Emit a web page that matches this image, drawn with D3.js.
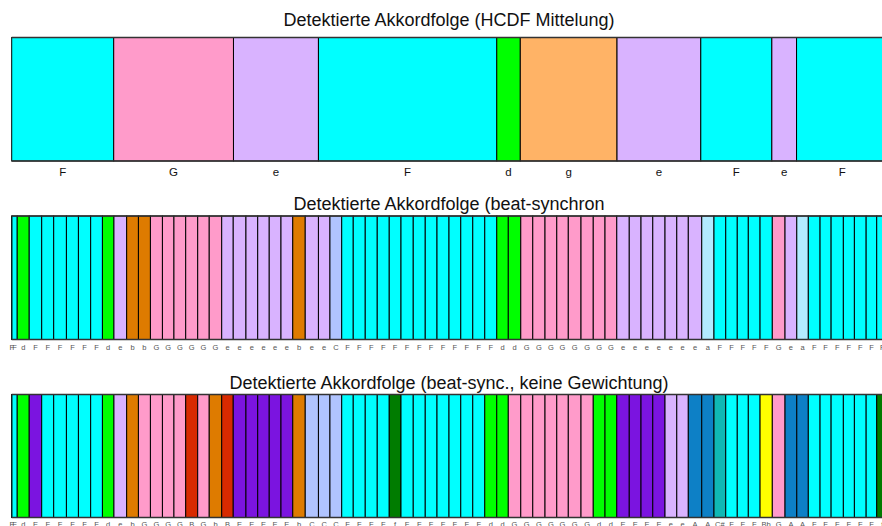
<!DOCTYPE html>
<html>
<head>
<meta charset="utf-8">
<script src="https://cdn.jsdelivr.net/npm/d3@7"></script>
<style>
  body { margin: 0; background: #fff; overflow: hidden; }
  text { font-family: 'Liberation Sans', Arial, sans-serif; }
</style>
</head>
<body>
<svg></svg>
<script>
const [svgWidth, svgHeight] = [882, 526];

// HCDF segments (seconds)
const hcdfBounds = [0, 4.25, 9.24, 12.78, 20.21, 21.19, 25.22, 28.71, 31.67, 32.70, 36.51];
const hcdfChords = ['F', 'G', 'e', 'F', 'd', 'g', 'e', 'F', 'e', 'F'];

// beat grid (seconds), first two entries are the part before the first beat
const beatTimes = [0, 0.01, 0.23, 0.73, 1.25, 1.75, 2.28, 2.78, 3.29, 3.78, 4.26, 4.79,
  5.28, 5.78, 6.28, 6.76, 7.25, 7.75, 8.23, 8.75, 9.23, 9.76, 10.25, 10.73, 11.22,
  11.71, 12.23, 12.78, 13.26, 13.75, 14.23, 14.73, 15.23, 15.73, 16.22, 16.73, 17.23,
  17.72, 18.22, 18.71, 19.21, 19.71, 20.21, 20.69, 21.21, 21.71, 22.22, 22.71, 23.19,
  23.72, 24.23, 24.72, 25.21, 25.73, 26.22, 26.71, 27.22, 27.71, 28.19, 28.75, 29.26,
  29.75, 30.23, 30.69, 31.18, 31.69, 32.22, 32.71, 33.19, 33.68, 34.14, 34.65, 35.11,
  35.60, 36.04, 36.51];

const beatChords = ('F F d F F F F F F d e b b G G G G G G e e e e e e b e e C ' +
  'F F F F F F F F F F F F F d d G G G G G G G G e e e e e e e a F F F F F G e a ' +
  'F F F F F F F').split(' ');

const beatChordsRaw = ('F F d E F F F F F d e b G G G G B G b B E E E E E b C C C ' +
  'F F F F f F F F F F F F d d G G G G G G G d d E E E E e e A A C# F F F Bb G A A ' +
  'F F F F F F f').split(' ');

const titles = [
  'Detektierte Akkordfolge (HCDF Mittelung)',
  'Detektierte Akkordfolge (beat-synchron',
  'Detektierte Akkordfolge (beat-sync., keine Gewichtung)'
];

const chordColor = {
  'F': '#00ffff', 'G': '#ff9bca', 'e': '#d9b3ff', 'd': '#00ff00', 'g': '#ffb366',
  'b': '#de7b00', 'C': '#b0c4ff', 'a': '#b2ebff', 'B': '#d82a00', 'E': '#7b14e0',
  'A': '#0d80c6', 'C#': '#10b8b4', 'Bb': '#ffff00', 'f': '#007c00'
};

const svg = d3.select('svg')
  .attr('width', svgWidth)
  .attr('height', svgHeight);

const x = d3.scaleLinear()
  .domain([0, 36.51])
  .range([11.7, 888]);

const toSegments = (bounds, chords) => chords.map((c, i) =>
  Object({ chord: c, t0: bounds[i], t1: bounds[i + 1] }));

const panels = [
  { segs: toSegments(hcdfBounds, hcdfChords), top: 37.5, bottom: 161, titleY: 26,
    labelY: 171.5, labelSize: 11.5, labelColor: '#111' },
  { segs: toSegments(beatTimes, beatChords), top: 216, bottom: 339.5, titleY: 210,
    labelY: 347.5, labelSize: 7.5, labelColor: '#555' },
  { segs: toSegments(beatTimes, beatChordsRaw), top: 394.5, bottom: 517.5, titleY: 389,
    labelY: 524.5, labelSize: 7.5, labelColor: '#555' }
];

panels.forEach((p, k) => {
  const g = svg.append('g');

  g.append('text')
    .attr('x', 449)
    .attr('y', p.titleY)
    .attr('text-anchor', 'middle')
    .attr('font-size', 18)
    .attr('fill', '#111')
    .text(titles[k]);

  g.selectAll('rect')
    .data(p.segs)
    .enter()
    .append('rect')
    .attr('x', d => x(d.t0))
    .attr('y', p.top)
    .attr('width', d => x(d.t1) - x(d.t0))
    .attr('height', p.bottom - p.top)
    .attr('fill', d => chordColor[d.chord])
    .attr('stroke', '#000')
    .attr('stroke-width', 1);

  // frame lines top and bottom
  [p.top, p.bottom].forEach(yy => {
    g.append('line')
      .attr('x1', x.range()[0])
      .attr('x2', x.range()[1])
      .attr('y1', yy)
      .attr('y2', yy)
      .attr('stroke', '#333')
      .attr('stroke-width', 1.6);
  });

  g.selectAll('text.lbl')
    .data(p.segs)
    .enter()
    .append('text')
    .attr('class', 'lbl')
    .attr('x', d => x((d.t0 + d.t1) / 2))
    .attr('y', p.labelY)
    .attr('text-anchor', 'middle')
    .attr('dominant-baseline', 'central')
    .attr('font-size', p.labelSize)
    .attr('fill', p.labelColor)
    .text(d => d.chord);
});
</script>
</body>
</html>
